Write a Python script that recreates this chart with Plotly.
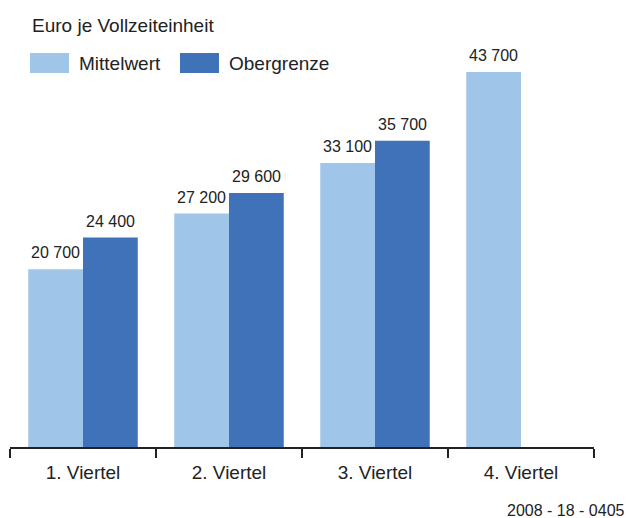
import plotly.graph_objects as go

categories = ["1. Viertel", "2. Viertel", "3. Viertel", "4. Viertel"]
mittelwert = [20700, 27200, 33100, 43700]
obergrenze = [24400, 29600, 35700, None]
series_names = ["Mittelwert", "Obergrenze"]
colors = ["#9FC5E8", "#3F72B8"]

def fmt(v):
    return f"{v:,}".replace(",", " ")

W, H = 626, 518
L, R, T, B = 10, 32, 52, 71
BARGAP = 0.25
FONT = "Liberation Sans, Arial, sans-serif"
fig = go.Figure()
for name, vals, col in zip(series_names, [mittelwert, obergrenze], colors):
    fig.add_trace(go.Bar(
        x=categories, y=vals, name=name, marker=dict(color=col, line=dict(width=0)),
        showlegend=False,
    ))

pw, ph = W - L - R, H - T - B
def px(x):  # page pixel -> paper
    return (x - L) / pw
def py(y):
    return (H - B - y) / ph

shapes = []
annotations = []
# value labels above each bar
half = (1 - BARGAP) / 4
for j, vals in enumerate([mittelwert, obergrenze]):
    for i, v in enumerate(vals):
        if v is None:
            continue
        annotations.append(dict(text=fmt(v), xref="x", yref="y", x=i + (2 * j - 1) * half, y=v,
                                xanchor="center", yanchor="bottom", yshift=6, showarrow=False,
                                font=dict(size=16, color="#222222")))

legend_items = [(30, 69, 77), (180, 219, 227)]
for (x0, x1, tx), name, col in zip(legend_items, series_names, colors):
    shapes.append(dict(type="rect", xref="paper", yref="paper", x0=px(x0), x1=px(x1),
                       y0=py(73), y1=py(53), fillcolor=col, line=dict(width=0)))
    annotations.append(dict(text=name, xref="paper", yref="paper", x=px(tx), y=py(63),
                            xanchor="left", yanchor="middle", showarrow=False,
                            font=dict(size=19, color="#222222")))
annotations.append(dict(text="Euro je Vollzeiteinheit", xref="paper", yref="paper",
                        x=px(30), y=py(25), xanchor="left", yanchor="middle", showarrow=False,
                        font=dict(size=19, color="#222222")))
annotations.append(dict(text="2008 - 18 - 0405", xref="paper", yref="paper",
                        x=px(627), y=py(510), xanchor="right", yanchor="middle", showarrow=False,
                        font=dict(size=16, color="#222222")))

fig.update_layout(
    width=W, height=H, margin=dict(l=L, r=R, t=T, b=B),
    paper_bgcolor="white", plot_bgcolor="white",
    barmode="group", bargap=BARGAP, bargroupgap=0,
    font=dict(family=FONT, size=16, color="#222222"),
    shapes=shapes, annotations=annotations,
    xaxis=dict(showline=True, linecolor="#222222", linewidth=1.5, ticks="outside",
               ticklen=9, tickcolor="#222222", tickwidth=1.5, tickson="boundaries",
               ticklabelstandoff=7,
               showgrid=False, tickfont=dict(size=19, color="#222222")),
    yaxis=dict(range=[0, 46030], visible=False, showgrid=False, zeroline=False),
)
fig.write_html("out.html", config={"displayModeBar": False},
               post_script="document.body.style.margin='0';document.body.style.overflow='hidden';")
